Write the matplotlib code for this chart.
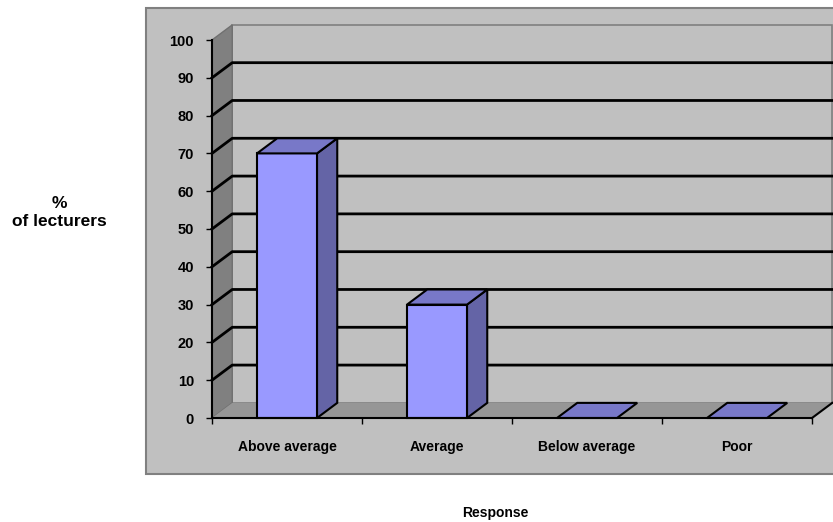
import matplotlib.pyplot as plt
from matplotlib.patches import Polygon, Rectangle

plt.rcParams['font.family'] = ['Liberation Sans', 'DejaVu Sans']

categories = ['Above average', 'Average', 'Below average', 'Poor']
percent = [70, 30, 0, 0]
y_ticks = list(range(0, 101, 10))

# fake 3d depth, in data units
DX = 0.135
DY = 4.0
BW = 0.4

fig = plt.figure(figsize=(8.33, 5.22), dpi=100)

# gray chart area box
fig.patches.append(Rectangle((146 / 833, 48 / 522), 700 / 833, 466 / 522,
                             transform=fig.transFigure, facecolor='#C0C0C0',
                             edgecolor='#808080', linewidth=1.5, zorder=-5))

ax = fig.add_axes([212 / 833, 104 / 522, 600 / 833, 378 / 522])
ax.patch.set_visible(False)
ax.set_xlim(-0.5, len(categories) - 0.5)
ax.set_ylim(0, 100)
x0, x1 = -0.5, len(categories) - 0.5

# back wall, side wall, floor
ax.add_patch(Polygon([(x0 + DX, DY), (x1 + DX, DY), (x1 + DX, 100 + DY), (x0 + DX, 100 + DY)],
                     closed=True, facecolor='#C0C0C0', edgecolor='#808080', lw=1.2, clip_on=False, zorder=1))
ax.add_patch(Polygon([(x0, 0), (x0 + DX, DY), (x0 + DX, 100 + DY), (x0, 100)],
                     closed=True, facecolor='#808080', edgecolor='#707070', lw=1, clip_on=False, zorder=1))
ax.add_patch(Polygon([(x0, 0), (x1, 0), (x1 + DX, DY), (x0 + DX, DY)],
                     closed=True, facecolor='#969696', edgecolor='none', clip_on=False, zorder=1))
ax.plot([x1, x1 + DX], [0, DY], color='black', lw=1.5, clip_on=False, zorder=2)

# gridlines on the walls
for v in y_ticks[1:-1]:
    ax.plot([x0, x0 + DX, x1 + DX], [v, v + DY, v + DY], color='black', lw=2, clip_on=False, zorder=2)

# bars
for i, v in enumerate(percent):
    l, r = i - BW / 2, i + BW / 2
    if v > 0:
        ax.add_patch(Polygon([(r, 0), (r + DX, DY), (r + DX, v + DY), (r, v)], closed=True,
                             facecolor='#6464A6', edgecolor='black', lw=1.5, clip_on=False, zorder=3))
        ax.add_patch(Rectangle((l, 0), BW, v, facecolor='#9999FF', edgecolor='black',
                               lw=1.5, clip_on=False, zorder=3))
    ax.add_patch(Polygon([(l, v), (r, v), (r + DX, v + DY), (l + DX, v + DY)], closed=True,
                         facecolor='#7878C8', edgecolor='black', lw=1.5, clip_on=False, zorder=3))

for s in ['top', 'right']:
    ax.spines[s].set_visible(False)
ax.spines['left'].set_linewidth(1.5)
ax.spines['bottom'].set_linewidth(1.5)
ax.spines['left'].set_zorder(4)
ax.spines['bottom'].set_zorder(4)

ax.set_yticks(y_ticks)
ax.set_yticklabels([str(t) for t in y_ticks], fontweight='bold', fontsize=10.5)
ax.tick_params(axis='y', length=4, width=1, pad=9, direction='out')

ax.set_xticks(range(len(categories)))
ax.set_xticklabels(categories, fontweight='bold', fontsize=10)
ax.tick_params(axis='x', length=0, pad=16)
ax.set_xticks([x0 + k for k in range(len(categories) + 1)], minor=True)
ax.tick_params(axis='x', which='minor', length=4, width=1, direction='out')

fig.text(59 / 833, 1 - 213 / 522, '%\nof lecturers', ha='center', va='center',
         multialignment='center', fontweight='bold', fontsize=12.5, linespacing=1.25)
fig.text(495 / 833, 1 - 513 / 522, 'Response', ha='center', va='center',
         fontweight='bold', fontsize=10)

fig.savefig('out.png', dpi=100)
